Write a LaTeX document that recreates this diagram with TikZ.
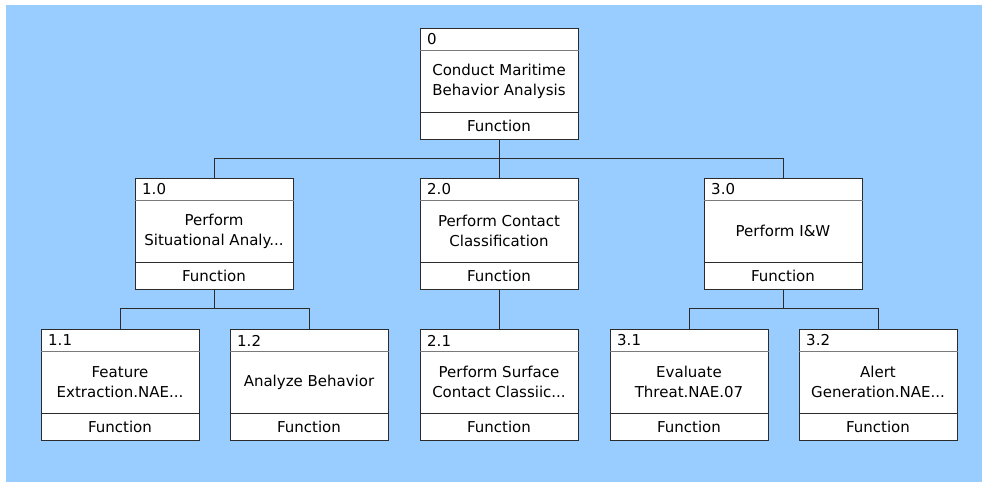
\documentclass[tikz,border=0pt]{standalone}
\usepackage{fontspec}
\setmainfont{DejaVu Sans}
\usepackage{tikz}

\definecolor{skyback}{HTML}{99CCFF}
\definecolor{boxline}{HTML}{2B2B2B}
\definecolor{numline}{HTML}{7A7A7A}

\tikzset{
  funcbox/.style={draw=boxline, fill=white, line width=1pt,
    minimum width=158pt, minimum height=111pt, inner sep=0pt},
  conn/.style={draw=boxline, line width=1pt},
  boxtext/.style={font=\fontsize{15}{20}\selectfont, align=center,
    inner sep=0pt, text=black},
}

\begin{document}
\begin{tikzpicture}[x=1pt,y=1pt]
    \useasboundingbox (0,0) rectangle (982,-482);
    \fill[skyback] (6,-5) rectangle (982,-482);

    % function boxes
    \foreach \n/\x/\y/\k/\t in {
        n0/499/-83.5/0/{Conduct Maritime\\Behavior Analysis},
        n1/214/-233.5/1.0/{Perform\\Situational Analy...},
        n2/499/-233.5/2.0/{Perform Contact\\Classification},
        n3/783/-233.5/3.0/{Perform I\&W},
        n11/120/-384.5/1.1/{Feature\\Extraction.NAE...},
        n12/309/-384.5/1.2/{Analyze Behavior},
        n21/499/-384.5/2.1/{Perform Surface\\Contact Classiic...},
        n31/689/-384.5/3.1/{Evaluate\\Threat.NAE.07},
        n32/878/-384.5/3.2/{Alert\\Generation.NAE...}}{
        \node[funcbox] (\n) at (\x,\y) {};
        \draw[numline, line width=1.5pt] ([yshift=-23pt]\n.north west) -- ([yshift=-23pt]\n.north east);
        \draw[boxline, line width=1pt] ([yshift=27pt]\n.south west) -- ([yshift=27pt]\n.south east);
        \node[boxtext, anchor=west] (\n-num) at ([xshift=7.5pt,yshift=-12pt]\n.north west) {\k};
        \node[boxtext] (\n-txt) at ([yshift=-53.5pt]\n.north) {\t};
        \node[boxtext] (\n-kind) at ([yshift=14pt]\n.south) {Function};
    }

    \coordinate (bus0) at (499,-158);
    \coordinate (bus1) at (214,-308);
    \coordinate (bus3) at (783,-308);

    \draw[conn] (n0.south) -- (n0 |- bus0) -| (n1.north);
    \draw[conn] (n0 |- bus0) -| (n3.north);
    \draw[conn] (n0.south) -- (n2.north);
    \draw[conn] (n1.south) -- (bus1) -| (n11.north);
    \draw[conn] (bus1) -| (n12.north);
    \draw[conn] (n2.south) -- (n21.north);
    \draw[conn] (n3.south) -- (bus3) -| (n31.north);
    \draw[conn] (bus3) -| (n32.north);
\end{tikzpicture}
\end{document}
